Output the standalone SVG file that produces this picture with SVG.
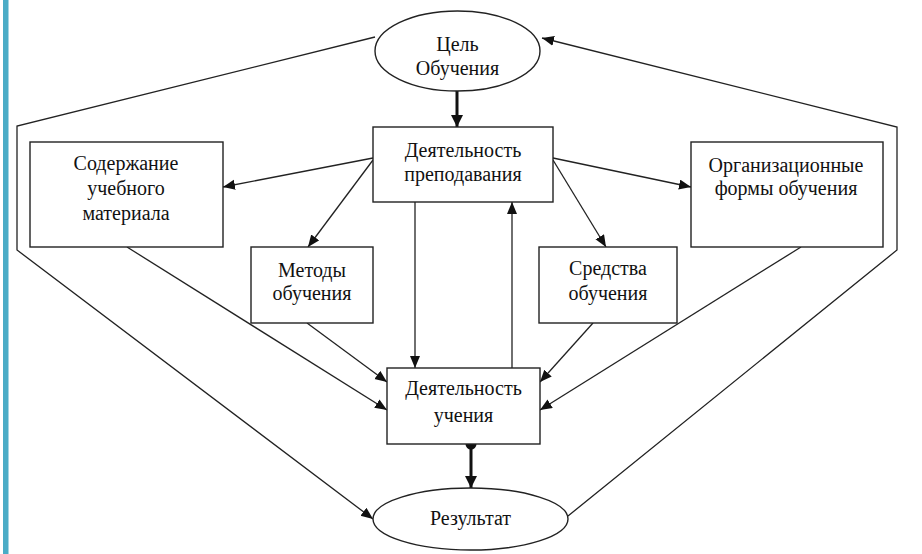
<svg xmlns="http://www.w3.org/2000/svg" width="922" height="554" viewBox="0 0 922 554">
<style>
  .node rect, .node ellipse { fill: #fff; stroke: #222; stroke-width: 1.4; }
  .node text { font-family: "Liberation Serif", "Times New Roman", serif; font-size: 20px; fill: #111; text-anchor: middle; }
  .conn line, .conn polyline { fill: none; stroke: #222; stroke-width: 1.3; }
  .conn .thick { stroke: #111; stroke-width: 3; }
</style>
<defs>
  <marker id="arr" markerUnits="userSpaceOnUse" markerWidth="14" markerHeight="12" refX="12" refY="5" orient="auto">
    <path d="M0,0 L12,5 L0,10 Z" fill="#111"/>
  </marker>
  <marker id="arrT" markerUnits="userSpaceOnUse" markerWidth="14" markerHeight="14" refX="12" refY="6" orient="auto">
    <path d="M0,0 L12,6 L0,12 Z" fill="#111"/>
  </marker>
  <marker id="dot" markerUnits="userSpaceOnUse" markerWidth="14" markerHeight="14" refX="7" refY="7" orient="auto">
    <circle cx="7" cy="7" r="5.5" fill="#111"/>
  </marker>
</defs>
<rect x="3" y="0" width="5.5" height="554" fill="#4bacc6"/>

<g id="connectors" class="conn">
  <line x1="373" y1="158" x2="223" y2="187" marker-end="url(#arr)"/>
  <line x1="373" y1="160" x2="308" y2="247" marker-end="url(#arr)"/>
  <line x1="553" y1="158" x2="691" y2="187" marker-end="url(#arr)"/>
  <line x1="553" y1="160" x2="606" y2="247" marker-end="url(#arr)"/>
  <line x1="415" y1="202" x2="415" y2="368" marker-end="url(#arr)"/>
  <line x1="512" y1="368" x2="512" y2="202" marker-end="url(#arr)"/>
  <line x1="127" y1="247" x2="387" y2="410" marker-end="url(#arr)"/>
  <line x1="307" y1="323" x2="387" y2="382" marker-end="url(#arr)"/>
  <line x1="593" y1="323" x2="540" y2="382" marker-end="url(#arr)"/>
  <line x1="801" y1="247" x2="540" y2="410" marker-end="url(#arr)"/>
  <polyline points="375,37 17,126 17,250 373,519" marker-end="url(#arr)"/>
  <polyline points="568,516 897,250 897,127 542,38" marker-end="url(#arr)"/>
  <line class="thick" x1="457" y1="84" x2="457" y2="127" marker-start="url(#dot)" marker-end="url(#arrT)"/>
  <line class="thick" x1="471" y1="444" x2="471" y2="488" marker-start="url(#dot)" marker-end="url(#arrT)"/>
</g>

<g id="goal" class="node">
  <ellipse cx="457.5" cy="51" rx="82.5" ry="40"/>
  <text x="457.5" y="51">Цель</text>
  <text x="457.5" y="75">Обучения</text>
</g>
<g id="teaching" class="node">
  <rect x="373" y="127" width="180" height="75"/>
  <text x="463" y="157">Деятельность</text>
  <text x="463" y="181">преподавания</text>
</g>
<g id="content" class="node">
  <rect x="30" y="142" width="193" height="105"/>
  <text x="126" y="170">Содержание</text>
  <text x="126" y="195">учебного</text>
  <text x="126" y="220">материала</text>
</g>
<g id="forms" class="node">
  <rect x="691" y="142" width="192" height="105"/>
  <text x="786" y="172">Организационные</text>
  <text x="786" y="195">формы обучения</text>
</g>
<g id="methods" class="node">
  <rect x="251" y="247" width="122" height="76"/>
  <text x="312" y="277">Методы</text>
  <text x="312" y="300">обучения</text>
</g>
<g id="means" class="node">
  <rect x="539" y="247" width="138" height="76"/>
  <text x="608" y="275">Средства</text>
  <text x="608" y="300">обучения</text>
</g>
<g id="learning" class="node">
  <rect x="387" y="368" width="153" height="76"/>
  <text x="463.5" y="395">Деятельность</text>
  <text x="463.5" y="422">учения</text>
</g>
<g id="result" class="node">
  <ellipse cx="470.5" cy="519" rx="97.5" ry="31"/>
  <text x="470.5" y="525">Результат</text>
</g>
</svg>
